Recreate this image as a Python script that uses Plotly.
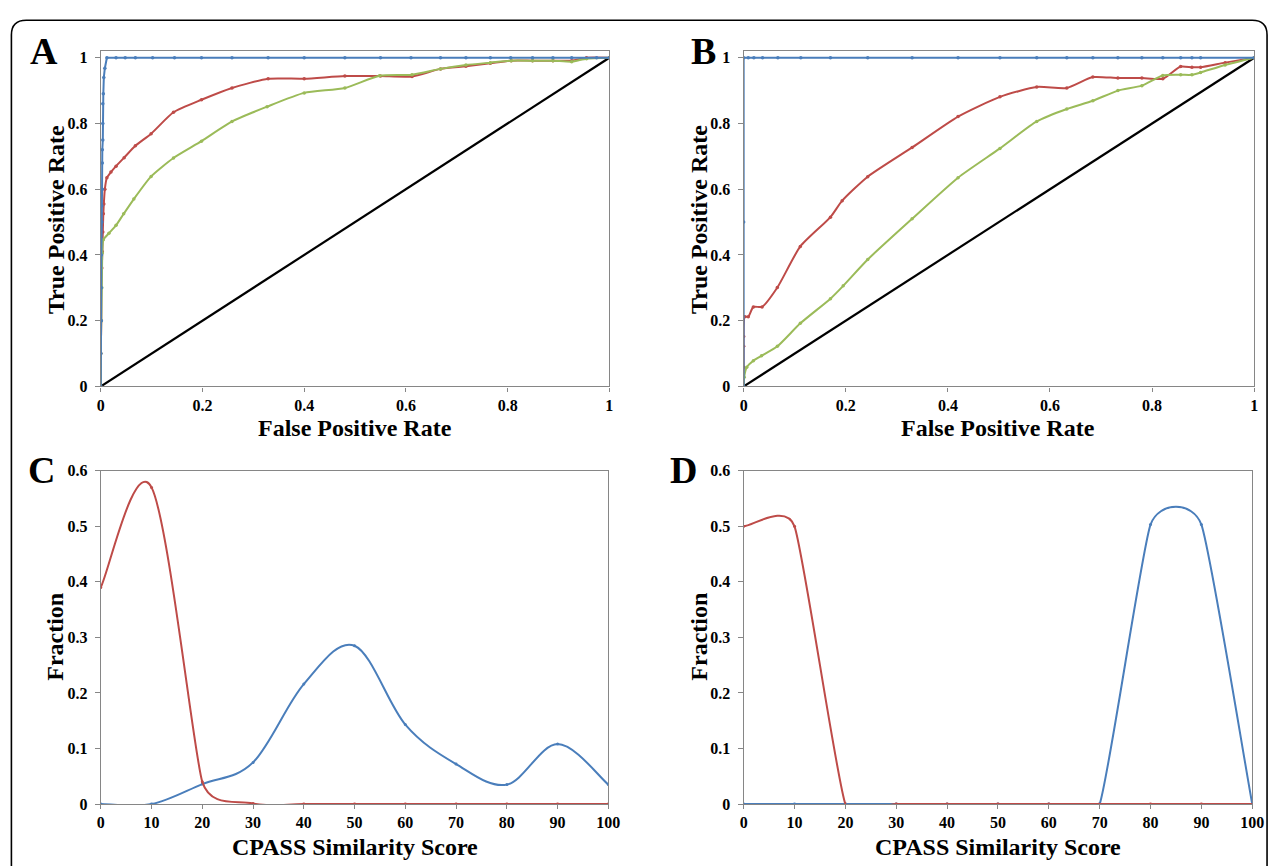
import math
import plotly.graph_objects as go

# ---------------- data ----------------
# Panel A (ROC)
a_blue_x = [0, 0, 0.001, 0.001, 0.001, 0.002, 0.002, 0.003, 0.003, 0.003, 0.004, 0.004, 0.004, 0.005, 0.006, 0.008, 0.012,
            0.03, 0.048, 0.068, 0.102, 0.145, 0.198, 0.258, 0.329, 0.40, 0.48, 0.55, 0.61, 0.668, 0.718, 0.766, 0.806,
            0.849, 0.889, 0.926, 0.975, 1.0]
a_blue_y = [0, 0.1, 0.2, 0.3, 0.4, 0.5, 0.55, 0.6, 0.68, 0.72, 0.75, 0.8, 0.86, 0.89, 0.94, 0.968, 1.0,
            1, 1, 1, 1, 1, 1, 1, 1, 1, 1, 1, 1, 1, 1, 1, 1, 1, 1, 1, 1, 1]
a_red_x = [0, 0, 0.001, 0.001, 0.002, 0.003, 0.004, 0.005, 0.006, 0.008, 0.012, 0.02, 0.03, 0.046, 0.068, 0.099,
           0.143, 0.198, 0.258, 0.329, 0.40, 0.48, 0.55, 0.612, 0.668, 0.718, 0.766, 0.807, 0.849, 0.889, 0.926, 0.955, 1.0]
a_red_y = [0, 0.1, 0.2, 0.3, 0.36, 0.41, 0.47, 0.525, 0.555, 0.6, 0.635, 0.652, 0.67, 0.696, 0.732, 0.769,
           0.834, 0.872, 0.908, 0.936, 0.936, 0.944, 0.944, 0.943, 0.966, 0.974, 0.983, 0.991, 0.991, 0.991, 0.991, 1.0, 1.0]
a_green_x = [0, 0, 0.001, 0.002, 0.003, 0.005, 0.016, 0.03, 0.045, 0.065, 0.099, 0.143, 0.198, 0.258, 0.327, 0.40,
             0.48, 0.548, 0.612, 0.668, 0.718, 0.766, 0.807, 0.849, 0.889, 0.926, 0.955, 1.0]
a_green_y = [0, 0.1, 0.2, 0.3, 0.406, 0.446, 0.466, 0.49, 0.525, 0.57, 0.639, 0.695, 0.746, 0.806, 0.851, 0.893,
             0.908, 0.945, 0.948, 0.966, 0.978, 0.985, 0.991, 0.991, 0.991, 0.988, 0.997, 1.0]

# Panel B (ROC)
b_blue_x = [0, 0, 0, 0.009, 0.02, 0.037, 0.067, 0.112, 0.17, 0.243, 0.33, 0.42, 0.502, 0.574, 0.633, 0.684,
            0.733, 0.78, 0.821, 0.856, 0.878, 0.895, 1.0]
b_blue_y = [0, 0.5, 1, 1, 1, 1, 1, 1, 1, 1, 1, 1, 1, 1, 1, 1, 1, 1, 1, 1, 1, 1, 1]
b_red_x = [0, 0, 0, 0, 0.002, 0.009, 0.019, 0.036, 0.066, 0.111, 0.17, 0.193, 0.243, 0.33, 0.42, 0.502, 0.574,
           0.633, 0.684, 0.733, 0.78, 0.821, 0.856, 0.878, 0.895, 0.943, 1.0]
b_red_y = [0, 0.058, 0.122, 0.152, 0.212, 0.212, 0.242, 0.242, 0.301, 0.426, 0.515, 0.565, 0.638, 0.727, 0.821,
           0.881, 0.911, 0.908, 0.941, 0.938, 0.938, 0.936, 0.973, 0.971, 0.971, 0.985, 1.0]
b_green_x = [0, 0.001, 0.006, 0.019, 0.035, 0.066, 0.111, 0.17, 0.195, 0.243, 0.33, 0.42, 0.502, 0.574, 0.633,
             0.684, 0.733, 0.78, 0.821, 0.856, 0.878, 0.895, 0.943, 1.0]
b_green_y = [0, 0.028, 0.058, 0.078, 0.093, 0.122, 0.192, 0.267, 0.306, 0.386, 0.51, 0.635, 0.724, 0.806, 0.844,
             0.869, 0.90, 0.915, 0.946, 0.948, 0.948, 0.955, 0.978, 1.0]

diag_x = [0, 1]
diag_y = [0, 1]

# Panels C and D (score distributions)
score = [0, 10, 20, 30, 40, 50, 60, 70, 80, 90, 100]
c_red = [0.39, 0.57, 0.04, 0.001, 0, 0, 0, 0, 0, 0, 0]
c_blue = [0, 0, 0.036, 0.075, 0.216, 0.285, 0.143, 0.072, 0.035, 0.108, 0.035]
d_red = [0.5, 0.5, 0, 0, 0, 0, 0, 0, 0, 0, 0]
d_blue = [0, 0, 0, 0, 0, 0, 0, 0, 0.503, 0.503, 0]

roc_ticks = [0, 0.2, 0.4, 0.6, 0.8, 1]
roc_ticktext = ["0", "0.2", "0.4", "0.6", "0.8", "1"]
frac_ticks = [0, 0.1, 0.2, 0.3, 0.4, 0.5, 0.6]
frac_ticktext = ["0", "0.1", "0.2", "0.3", "0.4", "0.5", "0.6"]
score_ticks = score
score_ticktext = [str(s) for s in score]

panel_letters = ["A", "B", "C", "D"]
roc_xtitle = "False Positive Rate"
roc_ytitle = "True Positive Rate"
dist_xtitle = "CPASS Similarity Score"
dist_ytitle = "Fraction"

# ---------------- style ----------------
W, H = 1283, 866
BLUE = "#4a7ebb"
RED = "#be4b48"
GREEN = "#9bbb59"
AXC = "#868686"
FONT = "Liberation Serif"
PAD = "\u00a0"  # keeps y tick labels a little away from the axis, as in the reference

def px_x(p):
    return p / W

def px_y(p):
    return 1 - p / H

# panel geometry (pixels)
A_X, B_X = (98, 613), (749, 1266)
C_X, D_X = (98, 612), (749, 1264)
TOP_Y, BOT_Y = (386, 44), (812, 472)

fig = go.Figure()

def line_trace(x, y, color, xa, ya, shape="linear", mode="lines+markers", width=2, smoothing=0.6, msize=3.5):
    line = dict(color=color, width=width, shape=shape)
    if shape == "spline":
        line["smoothing"] = smoothing
    return go.Scatter(
        x=x, y=y, mode=mode, line=line, marker=dict(color=color, size=msize),
        xaxis=xa, yaxis=ya, showlegend=False, hoverinfo="skip",
    )

def smooth_path(xs, ys, sx, sy):
    """Excel-style smoothed line through the data points as cubic Bezier segments
    (data coordinates; sx, sy = pixels per data unit, used only for tangent limits)."""
    n = len(xs)
    pts = list(zip(xs, ys))

    def pdist(p, q):
        return math.hypot((q[0] - p[0]) * sx, (q[1] - p[1]) * sy)

    ctrl = []
    for i in range(n):
        prv = pts[max(i - 1, 0)]
        nxt = pts[min(i + 1, n - 1)]
        tx, ty = nxt[0] - prv[0], nxt[1] - prv[1]
        d02 = pdist(prv, nxt)
        segs = [d for d in (pdist(prv, pts[i]), pdist(pts[i], nxt)) if d > 0]
        f = 1 / 6
        if d02 > 0 and segs and d02 / 6 > min(segs) / 2:
            f = min(segs) / (2 * d02)
        ctrl.append((tx * f, ty * f))
    path = f"M {pts[0][0]},{pts[0][1]}"
    for i in range(n - 1):
        c1 = (pts[i][0] + ctrl[i][0], pts[i][1] + ctrl[i][1])
        c2 = (pts[i + 1][0] - ctrl[i + 1][0], pts[i + 1][1] - ctrl[i + 1][1])
        path += f" C {c1[0]},{c1[1]} {c2[0]},{c2[1]} {pts[i + 1][0]},{pts[i + 1][1]}"
    return path

# Panel A
fig.add_trace(line_trace(diag_x, diag_y, "black", "x", "y", mode="lines", width=2.2))
fig.add_trace(line_trace(a_red_x, a_red_y, RED, "x", "y", shape="spline"))
fig.add_trace(line_trace(a_green_x, a_green_y, GREEN, "x", "y", shape="spline"))
fig.add_trace(line_trace(a_blue_x, a_blue_y, BLUE, "x", "y"))
# Panel B
fig.add_trace(line_trace(diag_x, diag_y, "black", "x2", "y2", mode="lines", width=2.2))
fig.add_trace(line_trace(b_red_x, b_red_y, RED, "x2", "y2", shape="spline"))
fig.add_trace(line_trace(b_green_x, b_green_y, GREEN, "x2", "y2", shape="spline"))
fig.add_trace(line_trace(b_blue_x, b_blue_y, BLUE, "x2", "y2"))

# Panels C and D: markers as traces, smoothed lines through the same points
for xa, ya, xpx, series in (("x3", "y3", C_X, ((c_blue, BLUE), (c_red, RED))),
                            ("x4", "y4", D_X, ((d_blue, BLUE), (d_red, RED)))):
    sx = (xpx[1] - xpx[0]) / 100.0
    sy = (BOT_Y[0] - BOT_Y[1]) / 0.6
    for vals, col in series:
        fig.add_trace(line_trace(score, vals, col, xa, ya, mode="markers", msize=3))
        fig.add_shape(type="path", path=smooth_path(score, vals, sx, sy),
                      xref=xa, yref=ya, line=dict(color=col, width=2), layer="above")

tickfont = dict(family=FONT, size=16, color="black", weight="bold")

def axis(domain, rng, tv, tt, anchor, is_y):
    return dict(domain=domain, range=rng, tickvals=tv,
                ticktext=[t + PAD for t in tt] if is_y else tt, anchor=anchor,
                showline=True, linecolor=AXC, linewidth=1.2, mirror=True,
                ticks="outside", ticklen=5 if is_y else 4, tickcolor=AXC, tickwidth=1,
                showgrid=False, zeroline=False, tickfont=tickfont, fixedrange=True)

top_row = [px_y(TOP_Y[0]), px_y(TOP_Y[1])]
bot_row = [px_y(BOT_Y[0]), px_y(BOT_Y[1])]

fig.update_layout(
    width=W, height=H,
    margin=dict(l=0, r=0, t=0, b=0),
    paper_bgcolor="white", plot_bgcolor="white",
    xaxis=axis([px_x(A_X[0]), px_x(A_X[1])], [0, 1], roc_ticks, roc_ticktext, "y", False),
    yaxis=axis(top_row, [0, 1.02], roc_ticks, roc_ticktext, "x", True),
    xaxis2=axis([px_x(B_X[0]), px_x(B_X[1])], [0, 1], roc_ticks, roc_ticktext, "y2", False),
    yaxis2=axis(top_row, [0, 1.02], roc_ticks, roc_ticktext, "x2", True),
    xaxis3=axis([px_x(C_X[0]), px_x(C_X[1])], [0, 100], score_ticks, score_ticktext, "y3", False),
    yaxis3=axis(bot_row, [0, 0.6], frac_ticks, frac_ticktext, "x3", True),
    xaxis4=axis([px_x(D_X[0]), px_x(D_X[1])], [0, 100], score_ticks, score_ticktext, "y4", False),
    yaxis4=axis(bot_row, [0, 0.6], frac_ticks, frac_ticktext, "x4", True),
)

title_font = dict(family=FONT, size=24, color="black", weight="bold")
letter_font = dict(family=FONT, size=38, color="black", weight="bold")

annots = []
def ann(text, x, y, font, angle=0):
    annots.append(dict(text=text, x=px_x(x), y=px_y(y), xref="paper", yref="paper",
                       showarrow=False, font=font, textangle=angle, borderpad=0,
                       xanchor="center", yanchor="middle"))

ann(roc_xtitle, 355, 428, title_font)
ann(roc_xtitle, 1007, 428, title_font)
ann(roc_ytitle, 52, 216, title_font, -90)
ann(roc_ytitle, 704, 216, title_font, -90)
ann(dist_xtitle, 355, 856, title_font)
ann(dist_xtitle, 1007, 856, title_font)
ann(dist_ytitle, 52, 641, title_font, -90)
ann(dist_ytitle, 704, 641, title_font, -90)
ann(panel_letters[0], 40, 44, letter_font)
ann(panel_letters[1], 708, 44, letter_font)
ann(panel_letters[2], 38, 471, letter_font)
ann(panel_letters[3], 688, 471, letter_font)
fig.update_layout(annotations=annots)

# outer rounded frame
xl, xr = px_x(7.5), px_x(1279)
yt, yb = px_y(12.5), px_y(880)
rx, ry = 15 / W, 15 / H
frame = (f"M {xl},{yb} L {xl},{yt - ry} Q {xl},{yt} {xl + rx},{yt} "
         f"L {xr - rx},{yt} Q {xr},{yt} {xr},{yt - ry} L {xr},{yb}")
fig.add_shape(type="path", path=frame, xref="paper", yref="paper",
              line=dict(color="black", width=1.6))

fig.write_html("out.html", config={"displayModeBar": False},
               post_script="document.body.style.margin='0';")
